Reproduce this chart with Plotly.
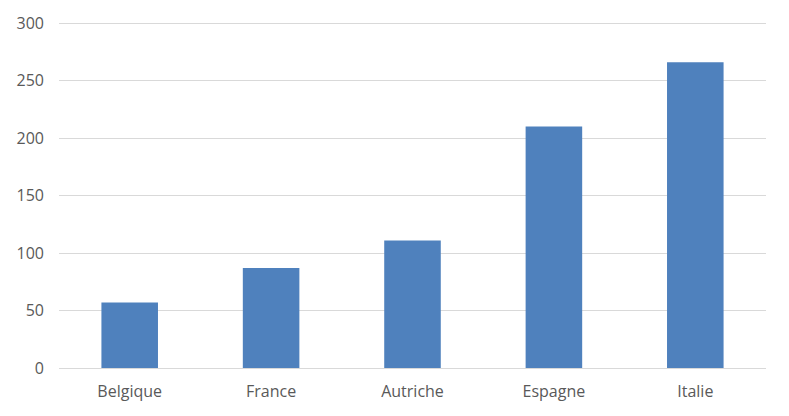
import plotly.graph_objects as go

categories = ["Belgique", "France", "Autriche", "Espagne", "Italie"]
values = [57, 87, 111, 210, 266]
y_ticks = [0, 50, 100, 150, 200, 250, 300]

fig = go.Figure(go.Bar(x=categories, y=values, marker=dict(color="#4f81bd", line=dict(width=0)), width=0.4))

fig.update_layout(
    width=773, height=400,
    margin=dict(l=51, r=15, t=14, b=40, pad=0),
    paper_bgcolor="white", plot_bgcolor="white",
    showlegend=False,
    font=dict(family="Open Sans", size=16, color="#595959"),
)
fig.update_xaxes(showgrid=False, showline=False, ticks="", ticklabelstandoff=12, automargin=False)
fig.update_yaxes(range=[0, 301], tickvals=y_ticks, showgrid=True, gridcolor="#d9d9d9",
                 gridwidth=1, zeroline=True, zerolinecolor="#d9d9d9", zerolinewidth=1,
                 showline=False, ticks="", ticklabelstandoff=14, automargin=False)

fig.write_html("out.html")
